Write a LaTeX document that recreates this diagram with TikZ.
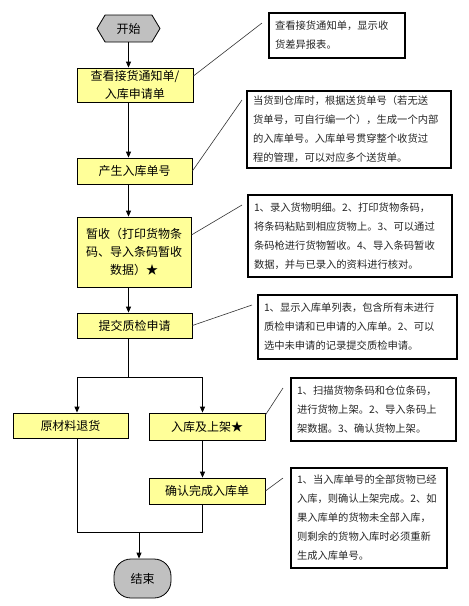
\documentclass[tikz,border=0pt]{standalone}
\usepackage{fontspec}
\newfontfamily\cjk{Noto Sans CJK SC}
\usetikzlibrary{arrows.meta,shapes.symbols}
\definecolor{boxyellow}{HTML}{FFFF99}
\definecolor{termgray}{HTML}{C0C0C0}
\begin{document}
\begin{tikzpicture}[x=1pt,y=-1pt,
  stepbox/.style={draw=black,line width=0.8pt,fill=boxyellow,align=center,inner sep=2pt,
    font=\cjk\fontsize{12}{18}\selectfont},
  notebox/.style={draw=black,line width=1.1pt,fill=white,align=left,inner xsep=6pt,inner ysep=2pt,
    font=\cjk\fontsize{10.3}{19}\selectfont,text=black!85},
  arr/.style={draw=black,line width=0.8pt,-{Triangle[width=5pt,length=6pt]}},
  con/.style={draw=black,line width=0.8pt},
  callout/.style={draw=black!80,line width=0.6pt}]
\useasboundingbox (0,0) rectangle (469,606);
\fill[white] (0,0) rectangle (469,606);
% terminals
\node[draw=black,line width=0.8pt,fill=termgray,shape=signal,signal to=west and east,
  signal pointer angle=118,minimum width=63pt,minimum height=27pt,inner sep=0pt,
  font=\cjk\fontsize{12}{14}\selectfont] (start) at (128.5,28.5) {开始};
\node[draw=black,line width=0.8pt,fill=termgray,rounded corners=17pt,minimum width=57pt,
  minimum height=39pt,inner sep=0pt,font=\cjk\fontsize{12}{14}\selectfont] (end) at (142.5,578.5) {结束};
% steps
\node[stepbox,minimum width=116pt,minimum height=34pt] (box1) at (135,85) {查看接货通知单/\\入库申请单};
\node[stepbox,minimum width=115pt,minimum height=26pt] (box2) at (134.5,171) {产生入库单号};
\node[stepbox,minimum width=114pt,minimum height=70pt] (box3) at (134,252) {暂收（打印货物条\\码、导入条码暂收\\数据）★};
\node[stepbox,minimum width=115pt,minimum height=25pt] (box4) at (134.5,325.5) {提交质检申请};
\node[stepbox,minimum width=115pt,minimum height=25pt] (box5) at (70.5,425.5) {原材料退货};
\node[stepbox,minimum width=116pt,minimum height=27pt] (box6) at (207,426.5) {入库及上架★};
\node[stepbox,minimum width=116pt,minimum height=26pt] (box7) at (207,491) {确认完成入库单};
% notes
\node[notebox,text width=124pt,minimum height=45pt] (n1) at (337,35.5) {查看接货通知单，显示收\\货差异报表。};
\node[notebox,text width=192pt,minimum height=77pt] (n2) at (349,129.5) {当货到仓库时，根据送货单号（若无送\\货单号，可自行编一个），生成一个内部\\的入库单号。入库单号贯穿整个收货过\\程的管理，可以对应多个送货单。};
\node[notebox,text width=192pt,minimum height=82pt] (n3) at (350,236) {1、录入货物明细。2、打印货物条码，\\将条码粘贴到相应货物上。3、可以通过\\条码枪进行货物暂收。4、导入条码暂收\\数据，并与已录入的资料进行核对。};
\node[notebox,text width=187pt,minimum height=64pt] (n4) at (357.5,327) {1、显示入库单列表，包含所有未进行\\质检申请和已申请的入库单。2、可以\\选中未申请的记录提交质检申请。};
\node[notebox,text width=153pt,minimum height=63pt] (n5) at (373.5,409.5) {1、扫描货物条码和仓位条码，\\进行货物上架。2、导入条码上\\架数据。3、确认货物上架。};
\node[notebox,text width=144pt,minimum height=100pt] (n6) at (369,518) {1、当入库单号的全部货物已经\\入库，则确认上架完成。2、如\\果入库单的货物未全部入库，\\则剩余的货物入库时必须重新\\生成入库单号。};
% main flow
\draw[arr] (start.south) -- (box1.north -| start);
\draw[arr] (box1.south -| start) -- (box2.north -| start);
\draw[arr] (box2.south -| start) -- (box3.north -| start);
\draw[arr] (box3.south -| start) -- (box4.north -| start);
\coordinate (br) at (128.5,377);
\coordinate (bl) at (77,377);
\coordinate (bri) at (202.5,377);
\draw[con] (box4.south -| start) -- (br);
\draw[con] (bl) -- (bri);
\draw[arr] (bl) -- (bl |- box5.north);
\draw[arr] (bri) -- (bri |- box6.north);
\draw[arr] (bri |- box6.south) -- (bri |- box7.north);
\coordinate (ml) at (77,532);
\coordinate (mr) at (202.5,532);
\coordinate (me) at (139,532);
\draw[con] (bl |- box5.south) -- (ml) -- (mr) -- (mr |- box7.south);
\draw[arr] (me) -- (me |- end.north);
% callout lines
\coordinate (c1) at (262,23);
\coordinate (c2) at (242,100);
\coordinate (c3) at (242,205);
\coordinate (c4) at (252,305);
\coordinate (c5) at (283,388);
\coordinate (c6) at (283,478);
\draw[callout] ([yshift=9pt]box1.east) -- (c1);
\draw[callout] (box2.east) -- (c2);
\draw[callout] ([yshift=17pt]box3.east) -- (c3);
\draw[callout] (box4.east) -- (c4);
\draw[callout] ([yshift=11.5pt]box6.east) -- (c5);
\draw[callout] (box7.east) -- (c6);
\end{tikzpicture}
\end{document}
